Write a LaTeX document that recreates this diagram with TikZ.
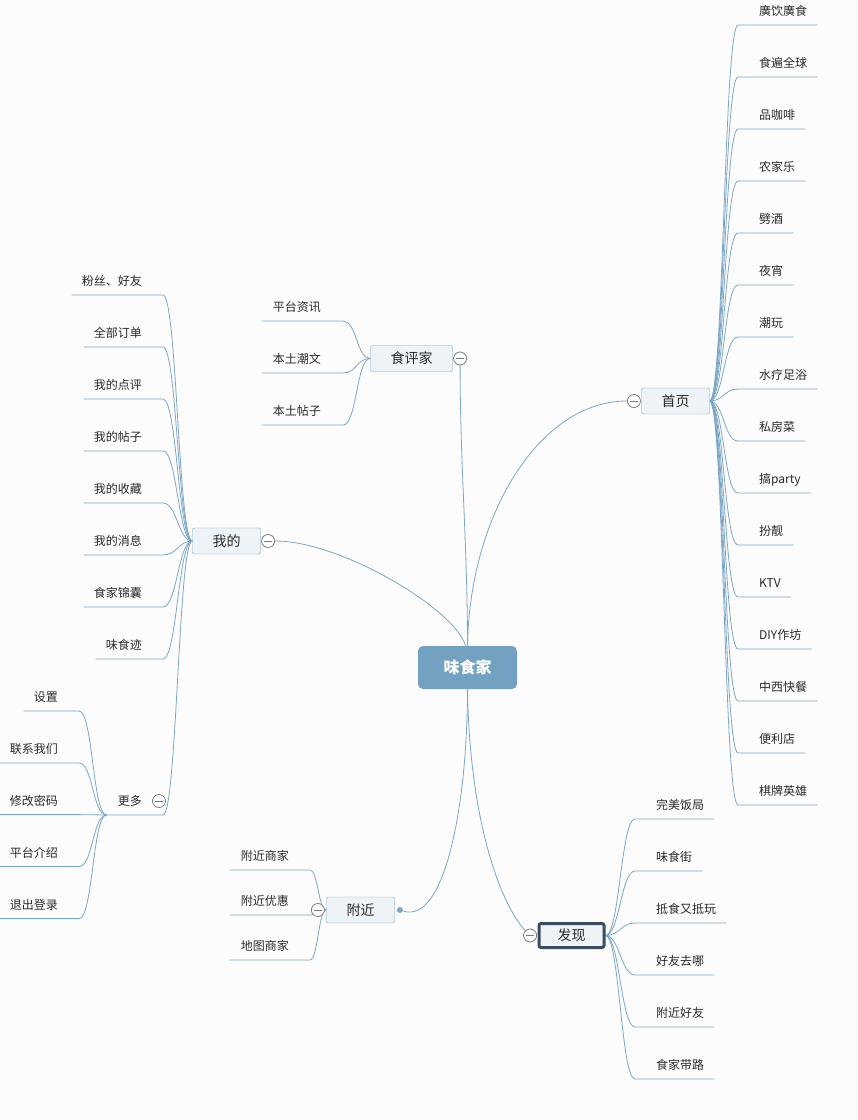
\documentclass[tikz,border=0pt]{standalone}
\usepackage{fontspec}
\newfontfamily\cjk{Noto Sans CJK SC}
\usetikzlibrary{positioning,backgrounds}
\definecolor{linkblue}{HTML}{7BA6C6}
\definecolor{boxfill}{HTML}{EEF3F7}
\definecolor{boxline}{HTML}{7AA3C2}
\definecolor{rootfill}{HTML}{73A1C2}
\definecolor{darkline}{HTML}{3A4D60}
\definecolor{foldgray}{HTML}{7A7A7A}
\definecolor{txt}{HTML}{2A2A2A}
\definecolor{paper}{HTML}{FCFCFC}

\begin{document}
\begin{tikzpicture}[
    x=1pt, y=-1pt, node distance=52pt,
    every node/.style={text=txt},
    root/.style={font=\cjk\fontsize{16}{18}\selectfont\bfseries, text=white,
                 fill=rootfill, rounded corners=5pt, inner xsep=25.5pt,
                 inner ysep=0pt, minimum height=43pt},
    topic/.style={font=\cjk\fontsize{14}{16}\selectfont, draw=boxline,
                  fill=boxfill, rounded corners=2pt, inner xsep=20pt,
                  inner ysep=0pt, minimum height=26pt},
    leaf/.style={font=\cjk\fontsize{12}{14}\selectfont, inner xsep=0pt,
                 inner ysep=0pt, text height=10pt, text depth=9.4pt},
    rleaf/.style={leaf, anchor=south west},
    lleaf/.style={leaf, anchor=south east},
    foldmark/.style={circle, draw=foldgray, fill=white, inner sep=0pt,
                     minimum size=13pt, line width=0.8pt,
                     path picture={\draw[foldgray, line width=0.8pt]
                       ([xshift=-4.3pt]path picture bounding box.center) --
                       ([xshift=4.3pt]path picture bounding box.center);}},
    dotmark/.style={circle, fill=linkblue, inner sep=0pt, minimum size=6pt},
    link/.style={draw=linkblue, line width=0.8pt}
  ]
  \useasboundingbox (0,0) rectangle (858,1120);

  % main topics
  \node[root]   (root)   at (467.5,667.5) {味食家};
  \node[topic]  (home)   at (675.5,401)   {首页};
  \node[topic]  (critic) at (411.5,358.5) {食评家};
  \node[topic]  (mine)   at (226.5,541)   {我的};
  \node[topic]  (near)   at (360.5,910)   {附近};
  \node[topic, draw=darkline, line width=3pt, inner xsep=18.5pt,
        minimum height=24pt] (disc) at (571.5,935.5) {发现};

  \node[foldmark, left=0.5pt of home]    (homefold)   {};
  \node[foldmark, right=0.5pt of critic] (criticfold) {};
  \node[foldmark, right=0.5pt of mine]   (minefold)   {};
  \node[foldmark, left=1.5pt of near]    (nearfold)   {};
  \node[foldmark, left=0.5pt of disc]    (discfold)   {};
  \node[dotmark, right=2pt of near]      (neardot)    {};

  % 首页
  \node[rleaf] (h01) at (759,25) {廣饮廣食};
  \node[below=of h01.south west, rleaf] (h02) {食遍全球};
  \node[below=of h02.south west, rleaf] (h03) {品咖啡};
  \node[below=of h03.south west, rleaf] (h04) {农家乐};
  \node[below=of h04.south west, rleaf] (h05) {劈酒};
  \node[below=of h05.south west, rleaf] (h06) {夜宵};
  \node[below=of h06.south west, rleaf] (h07) {潮玩};
  \node[below=of h07.south west, rleaf] (h08) {水疗足浴};
  \node[below=of h08.south west, rleaf] (h09) {私房菜};
  \node[below=of h09.south west, rleaf] (h10) {搞party};
  \node[below=of h10.south west, rleaf] (h11) {扮靓};
  \node[below=of h11.south west, rleaf] (h12) {KTV};
  \node[below=of h12.south west, rleaf] (h13) {DIY作坊};
  \node[below=of h13.south west, rleaf] (h14) {中西快餐};
  \node[below=of h14.south west, rleaf] (h15) {便利店};
  \node[below=of h15.south west, rleaf] (h16) {棋牌英雄};

  % 我的
  \node[lleaf] (m01) at (142,295) {粉丝、好友};
  \node[below=of m01.south east, lleaf] (m02) {全部订单};
  \node[below=of m02.south east, lleaf] (m03) {我的点评};
  \node[below=of m03.south east, lleaf] (m04) {我的帖子};
  \node[below=of m04.south east, lleaf] (m05) {我的收藏};
  \node[below=of m05.south east, lleaf] (m06) {我的消息};
  \node[below=of m06.south east, lleaf] (m07) {食家锦囊};
  \node[below=of m07.south east, lleaf] (m08) {味食迹};
  \node[below=156pt of m08.south east, lleaf] (more) {更多};
  \node[foldmark] (morefold) at (159,801) {};

  % 更多
  \node[lleaf] (s01) at (58,711) {设置};
  \node[below=of s01.south east, lleaf] (s02) {联系我们};
  \node[below=51.6pt of s02.south east, lleaf] (s03) {修改密码};
  \node[below=of s03.south east, lleaf] (s04) {平台介绍};
  \node[below=of s04.south east, lleaf] (s05) {退出登录};

  % 食评家
  \node[lleaf] (c01) at (321,321) {平台资讯};
  \node[below=of c01.south east, lleaf] (c02) {本土潮文};
  \node[below=of c02.south east, lleaf] (c03) {本土帖子};

  % 附近
  \node[lleaf] (n01) at (289,870) {附近商家};
  \node[below=45pt of n01.south east, lleaf] (n02) {附近优惠};
  \node[below=45pt of n02.south east, lleaf] (n03) {地图商家};

  % 发现
  \node[rleaf] (d01) at (656,819) {完美饭局};
  \node[below=of d01.south west, rleaf] (d02) {味食街};
  \node[below=of d02.south west, rleaf] (d03) {抵食又抵玩};
  \node[below=of d03.south west, rleaf] (d04) {好友去哪};
  \node[below=of d04.south west, rleaf] (d05) {附近好友};
  \node[below=of d05.south west, rleaf] (d06) {食家带路};

  \begin{scope}[on background layer]
    \fill[paper] (0,0) rectangle (858,1120);

    % root to topics
    \draw[link] (root.north) .. controls +(2,-130) and +(-88,0) .. (homefold.west);
    \draw[link] (root.north) .. controls +(0,-100) and +(0,100) .. (criticfold.south);
    \draw[link] ([xshift=-2pt]root.north) .. controls +(-10,-36) and +(67,0) .. (minefold.east);
    \draw[link] (root.south) .. controls +(0,111) and +(46,15) .. (neardot);
    \draw[link] (root.south) .. controls +(2,131) and +(-25,-27) .. (discfold.north west);

    % 首页
    \draw[link] (home.east) .. controls +(14,0) and +(-14,0) .. ([xshift=-21pt]h01.south west) -- ([xshift=10pt]h01.south east);
    \draw[link] (home.east) .. controls +(14,0) and +(-14,0) .. ([xshift=-21pt]h02.south west) -- ([xshift=10pt]h02.south east);
    \draw[link] (home.east) .. controls +(14,0) and +(-14,0) .. ([xshift=-21pt]h03.south west) -- ([xshift=10pt]h03.south east);
    \draw[link] (home.east) .. controls +(14,0) and +(-14,0) .. ([xshift=-21pt]h04.south west) -- ([xshift=10pt]h04.south east);
    \draw[link] (home.east) .. controls +(14,0) and +(-14,0) .. ([xshift=-21pt]h05.south west) -- ([xshift=10pt]h05.south east);
    \draw[link] (home.east) .. controls +(14,0) and +(-14,0) .. ([xshift=-21pt]h06.south west) -- ([xshift=10pt]h06.south east);
    \draw[link] (home.east) .. controls +(14,0) and +(-14,0) .. ([xshift=-21pt]h07.south west) -- ([xshift=10pt]h07.south east);
    \draw[link] (home.east) .. controls +(14,0) and +(-14,0) .. ([xshift=-21pt]h08.south west) -- ([xshift=10pt]h08.south east);
    \draw[link] (home.east) .. controls +(14,0) and +(-14,0) .. ([xshift=-21pt]h09.south west) -- ([xshift=10pt]h09.south east);
    \draw[link] (home.east) .. controls +(14,0) and +(-14,0) .. ([xshift=-21pt]h10.south west) -- ([xshift=10pt]h10.south east);
    \draw[link] (home.east) .. controls +(14,0) and +(-14,0) .. ([xshift=-21pt]h11.south west) -- ([xshift=10pt]h11.south east);
    \draw[link] (home.east) .. controls +(14,0) and +(-14,0) .. ([xshift=-21pt]h12.south west) -- ([xshift=10pt]h12.south east);
    \draw[link] (home.east) .. controls +(14,0) and +(-14,0) .. ([xshift=-21pt]h13.south west) -- ([xshift=10pt]h13.south east);
    \draw[link] (home.east) .. controls +(14,0) and +(-14,0) .. ([xshift=-21pt]h14.south west) -- ([xshift=10pt]h14.south east);
    \draw[link] (home.east) .. controls +(14,0) and +(-14,0) .. ([xshift=-21pt]h15.south west) -- ([xshift=10pt]h15.south east);
    \draw[link] (home.east) .. controls +(14,0) and +(-14,0) .. ([xshift=-21pt]h16.south west) -- ([xshift=10pt]h16.south east);

    % 我的
    \draw[link] (mine.west) .. controls +(-14,0) and +(14,0) .. ([xshift=21pt]m01.south east) -- ([xshift=-10pt]m01.south west);
    \draw[link] (mine.west) .. controls +(-14,0) and +(14,0) .. ([xshift=21pt]m02.south east) -- ([xshift=-10pt]m02.south west);
    \draw[link] (mine.west) .. controls +(-14,0) and +(14,0) .. ([xshift=21pt]m03.south east) -- ([xshift=-10pt]m03.south west);
    \draw[link] (mine.west) .. controls +(-14,0) and +(14,0) .. ([xshift=21pt]m04.south east) -- ([xshift=-10pt]m04.south west);
    \draw[link] (mine.west) .. controls +(-14,0) and +(14,0) .. ([xshift=21pt]m05.south east) -- ([xshift=-10pt]m05.south west);
    \draw[link] (mine.west) .. controls +(-14,0) and +(14,0) .. ([xshift=21pt]m06.south east) -- ([xshift=-10pt]m06.south west);
    \draw[link] (mine.west) .. controls +(-14,0) and +(14,0) .. ([xshift=21pt]m07.south east) -- ([xshift=-10pt]m07.south west);
    \draw[link] (mine.west) .. controls +(-14,0) and +(14,0) .. ([xshift=21pt]m08.south east) -- ([xshift=-10pt]m08.south west);
    \draw[link] (mine.west) .. controls +(-14,0) and +(14,0) .. ([xshift=21pt]more.south east) -- ([xshift=-11pt]more.south west);

    % 更多
    \draw[link] ([xshift=-11pt]more.south west) .. controls +(-14,0) and +(14,0) .. ([xshift=21pt]s01.south east) -- ([xshift=-10pt]s01.south west);
    \draw[link] ([xshift=-11pt]more.south west) .. controls +(-14,0) and +(14,0) .. ([xshift=21pt]s02.south east) -- ([xshift=-10pt]s02.south west);
    \draw[link] ([xshift=-11pt]more.south west) .. controls +(-14,0) and +(14,0) .. ([xshift=21pt]s03.south east) -- ([xshift=-10pt]s03.south west);
    \draw[link] ([xshift=-11pt]more.south west) .. controls +(-14,0) and +(14,0) .. ([xshift=21pt]s04.south east) -- ([xshift=-10pt]s04.south west);
    \draw[link] ([xshift=-11pt]more.south west) .. controls +(-14,0) and +(14,0) .. ([xshift=21pt]s05.south east) -- ([xshift=-10pt]s05.south west);

    % 食评家
    \draw[link] (critic.west) .. controls +(-14,0) and +(14,0) .. ([xshift=22pt]c01.south east) -- ([xshift=-11pt]c01.south west);
    \draw[link] (critic.west) .. controls +(-14,0) and +(14,0) .. ([xshift=22pt]c02.south east) -- ([xshift=-11pt]c02.south west);
    \draw[link] (critic.west) .. controls +(-14,0) and +(14,0) .. ([xshift=22pt]c03.south east) -- ([xshift=-11pt]c03.south west);

    % 附近
    \draw[link] (near.west) .. controls +(-8,0) and +(8,0) .. ([xshift=21pt]n01.south east) -- ([xshift=-11pt]n01.south west);
    \draw[link] (near.west) .. controls +(-8,0) and +(8,0) .. ([xshift=21pt]n02.south east) -- ([xshift=-11pt]n02.south west);
    \draw[link] (near.west) .. controls +(-8,0) and +(8,0) .. ([xshift=21pt]n03.south east) -- ([xshift=-11pt]n03.south west);

    % 发现
    \draw[link] (disc.east) .. controls +(14,0) and +(-14,0) .. ([xshift=-21pt]d01.south west) -- ([xshift=10pt]d01.south east);
    \draw[link] (disc.east) .. controls +(14,0) and +(-14,0) .. ([xshift=-21pt]d02.south west) -- ([xshift=10pt]d02.south east);
    \draw[link] (disc.east) .. controls +(14,0) and +(-14,0) .. ([xshift=-21pt]d03.south west) -- ([xshift=10pt]d03.south east);
    \draw[link] (disc.east) .. controls +(14,0) and +(-14,0) .. ([xshift=-21pt]d04.south west) -- ([xshift=10pt]d04.south east);
    \draw[link] (disc.east) .. controls +(14,0) and +(-14,0) .. ([xshift=-21pt]d05.south west) -- ([xshift=10pt]d05.south east);
    \draw[link] (disc.east) .. controls +(14,0) and +(-14,0) .. ([xshift=-21pt]d06.south west) -- ([xshift=10pt]d06.south east);
  \end{scope}
\end{tikzpicture}
\end{document}
